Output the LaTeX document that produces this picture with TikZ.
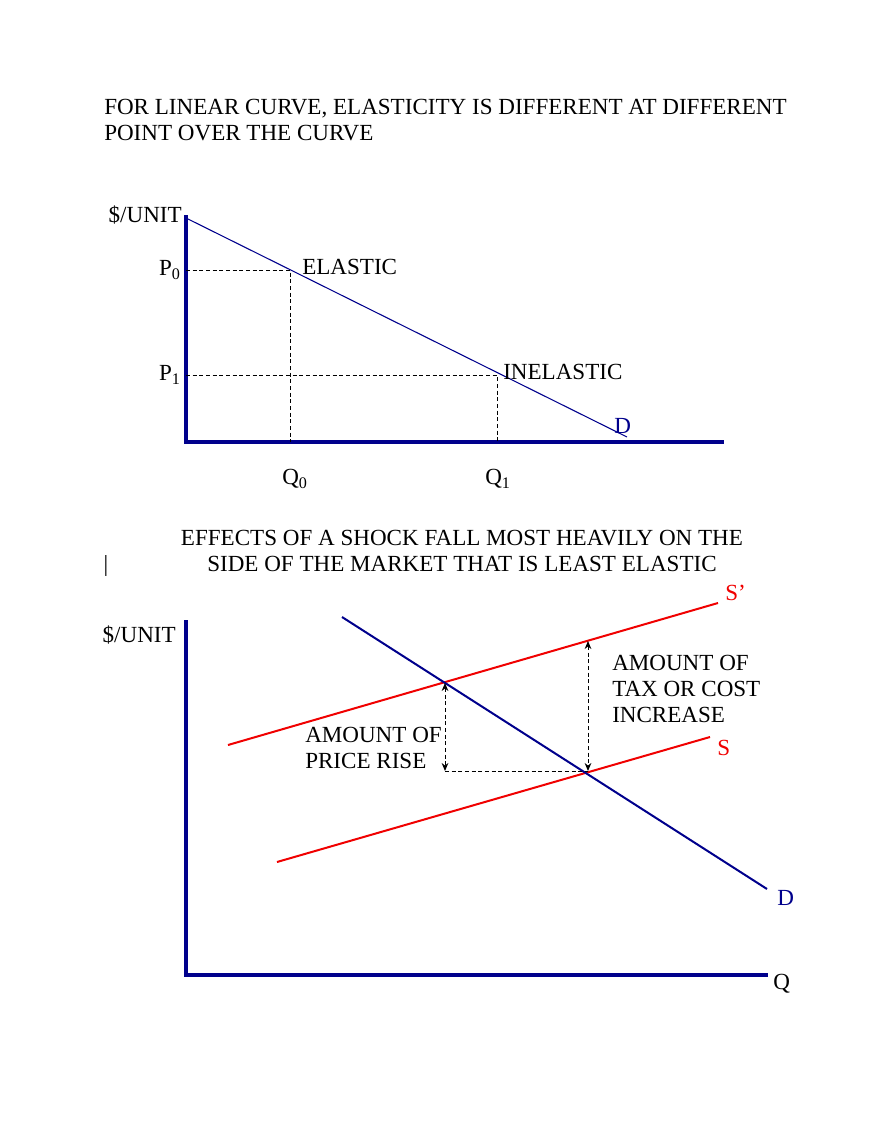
\documentclass[tikz,border=0pt]{standalone}
\usepackage{fontspec}
\setmainfont{Liberation Serif}
\usetikzlibrary{arrows.meta}
\definecolor{nv}{RGB}{0,0,140}
\definecolor{rd}{RGB}{240,0,0}
\begin{document}
\begin{tikzpicture}[x=0.75pt,y=-0.75pt,font=\fontsize{17.3}{19.5}\selectfont,
  axis/.style={nv,line width=2.8pt},
  lbl/.style={inner sep=0pt},
  dsh/.style={dashed,line width=0.7pt,dash pattern=on 3pt off 2pt},
  arr/.style={dsh,{Stealth[length=6pt,width=5pt]}-{Stealth[length=6pt,width=5pt]}}]
\useasboundingbox (0,0) rectangle (880,1139);
\node[lbl,anchor=west,align=left] (t1) at (104,120) {FOR LINEAR CURVE, ELASTICITY IS DIFFERENT AT DIFFERENT\\POINT OVER THE CURVE};
% top chart
\coordinate (o1) at (186,442);
\coordinate (ytop1) at (186,215);
\coordinate (xend1) at (724,442);
\draw[axis] (ytop1) -- (o1) -- (xend1);
\coordinate (d1a) at (186,218);
\coordinate (d1b) at (627,437);
\draw[nv,line width=0.8pt] (d1a) -- (d1b);
\coordinate (e) at (290,270);
\coordinate (ie) at (497,375);
\coordinate (p0) at (186,270);
\coordinate (p1) at (186,375);
\coordinate (q0) at (290,442);
\coordinate (q1) at (497,442);
\draw[dsh] (p0) -- (e) -- (q0);
\draw[dsh] (p1) -- (ie) -- (q1);
\node[lbl,anchor=east] (u1) at (182,215) {\$/UNIT};
\node[lbl,anchor=east] (lp0) at (181,270) {P\textsubscript{0}};
\node[lbl,anchor=east] (lp1) at (181,375) {P\textsubscript{1}};
\node[lbl,anchor=west] (le) at (302,267) {ELASTIC};
\node[lbl,anchor=west] (lie) at (503,372) {INELASTIC};
\node[lbl,anchor=west,text=nv] (ld1) at (614,426) {D};
\node[lbl] (lq0) at (295,479) {Q\textsubscript{0}};
\node[lbl] (lq1) at (498,479) {Q\textsubscript{1}};
% middle title
\node[lbl,align=center] (t2) at (462,551) {EFFECTS OF A SHOCK FALL MOST HEAVILY ON THE\\SIDE OF THE MARKET THAT IS LEAST ELASTIC};
\node[lbl] (bar) at (106,566) {|};
% bottom chart
\coordinate (o2) at (186,975);
\coordinate (ytop2) at (186,620);
\coordinate (xend2) at (768,975);
\draw[axis] (ytop2) -- (o2) -- (xend2);
\coordinate (spa) at (228,745);
\coordinate (spb) at (718,603);
\coordinate (sa) at (277,862);
\coordinate (sb) at (710,737);
\coordinate (da) at (342,617);
\coordinate (db) at (767,889);
\draw[rd,line width=1.5pt] (spa) -- (spb);
\draw[rd,line width=1.5pt] (sa) -- (sb);
\draw[nv,line width=1.5pt] (da) -- (db);
\coordinate (i1) at (445,683);
\coordinate (i2) at (588,771);
\coordinate (i1b) at (445,771);
\coordinate (i2t) at (588,641);
\draw[dsh] (i1b) -- (i2);
\draw[arr] (i1) -- (i1b);
\draw[arr] (i2t) -- (i2);
\node[lbl,anchor=east] (u2) at (176,635) {\$/UNIT};
\node[lbl,anchor=west,text=rd] (lsp) at (725,593) {S’};
\node[lbl,anchor=west,text=rd] (ls) at (717,748) {S};
\node[lbl,anchor=west,text=nv] (ld2) at (777,898) {D};
\node[lbl,anchor=west] (lq) at (773,984) {Q};
\node[lbl,anchor=west,align=left] (pr) at (305,748) {AMOUNT OF\\PRICE RISE};
\node[lbl,anchor=west,align=left] (tx) at (612,689) {AMOUNT OF\\TAX OR COST\\INCREASE};
\end{tikzpicture}
\end{document}
